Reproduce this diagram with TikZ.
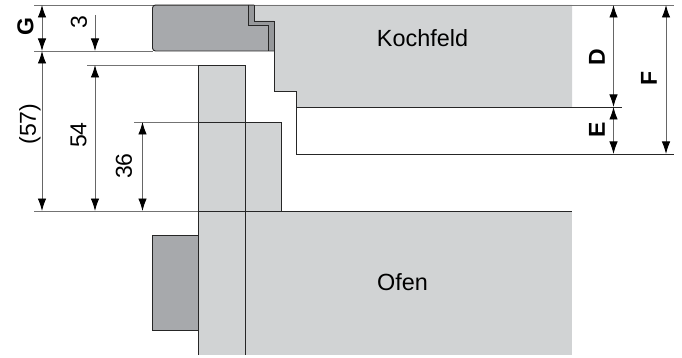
\documentclass[tikz,border=0pt]{standalone}
\usepackage{fontspec}
\setmainfont{Liberation Sans}
\usetikzlibrary{arrows.meta}
\definecolor{lightpart}{RGB}{209,211,212}
\definecolor{darkpart}{RGB}{167,169,172}
\definecolor{midpart}{RGB}{150,152,155}
\tikzset{
  outline/.style={draw=black!85,line width=0.9pt},
  helpline/.style={draw=black!55,line width=0.9pt},
  dimline/.style={draw=black!60,line width=0.9pt,{Latex[length=12.5pt,width=8.5pt,black]}-{Latex[length=12.5pt,width=8.5pt,black]}},
  downline/.style={draw=black!60,line width=0.9pt,-{Latex[length=12.5pt,width=8.5pt,black]}},
  numlabel/.style={rotate=90,inner sep=0pt,font=\fontsize{23}{23}\selectfont},
  letterlabel/.style={rotate=90,inner sep=0pt,font=\fontsize{23}{23}\selectfont\bfseries},
  partlabel/.style={inner sep=0pt,font=\fontsize{23.4}{23.4}\selectfont}
}
\begin{document}
\begin{tikzpicture}[x=1pt,y=-1pt]
\useasboundingbox (0,0) rectangle (682,358);
% fills
\fill[lightpart] (254,5)--(572,5)--(572,107)--(296,107)--(296,91)--(274,91)--(274,21)--(254,21)--cycle;
\fill[midpart] (248,5)--(254,5)--(254,21)--(274,21)--(274,51)--(268,51)--(268,25)--(248,25)--cycle;
\fill[darkpart] (152.5,8) arc[start angle=180,end angle=270,radius=3] -- (248,5)--(248,25)--(268,25)--(268,51)--(155.5,51) arc[start angle=90,end angle=180,radius=3]--cycle;
\fill[lightpart] (198,65) rectangle (245,355);
\fill[lightpart] (245,122) rectangle (281,211);
\fill[lightpart] (245,211) rectangle (572,355);
\fill[darkpart] (152.5,235) rectangle (198,330);
% outlines
\draw[helpline] (34,5)--(674,5);
\draw[helpline] (34,51)--(153,51);
\draw[helpline] (87,65)--(198,65);
\draw[helpline] (134,122)--(198,122);
\draw[helpline] (34,211)--(198,211);
\draw[outline] (254,5)--(155.5,5) arc[start angle=270,end angle=180,radius=3]--(152.5,48) arc[start angle=180,end angle=90,radius=3]--(274,51);
\draw[outline] (248,5)--(248,25)--(268,25)--(268,51);
\draw[outline] (254,5)--(254,21)--(274,21)--(274,91)--(296,91)--(296,154)--(674,154);
\draw[outline] (296,107)--(622,107);
\draw[outline] (198,355)--(198,65)--(245,65)--(245,355);
\draw[outline] (198,122)--(281,122)--(281,211);
\draw[outline] (198,211)--(572,211);
\draw[outline] (198,235)--(152.5,235)--(152.5,330)--(198,330);
% dimensions
\draw[dimline] (42,5)--(42,51);
\draw[dimline] (42,51)--(42,211);
\draw[downline] (95,15)--(95,51);
\draw[dimline] (95,65)--(95,211);
\draw[dimline] (142.5,122)--(142.5,211);
\draw[dimline] (613.5,5)--(613.5,107);
\draw[dimline] (613.5,107)--(613.5,154);
\draw[dimline] (666,5)--(666,154);
% labels
\node[letterlabel] (G) at (25.5,27) {G};
\node[numlabel] (three) at (79,22.5) {3};
\node[numlabel] (fiftyseven) at (30,124) {(57)};
\node[numlabel] (fiftyfour) at (78.5,135) {54};
\node[numlabel] (thirtysix) at (124,166) {36};
\node[letterlabel] (D) at (597,57) {D};
\node[letterlabel] (E) at (597,130) {E};
\node[letterlabel] (F) at (649,78) {F};
\node[partlabel] (kochfeld) at (422.5,38) {Kochfeld};
\node[partlabel] (ofen) at (402.5,282) {Ofen};
\end{tikzpicture}
\end{document}
